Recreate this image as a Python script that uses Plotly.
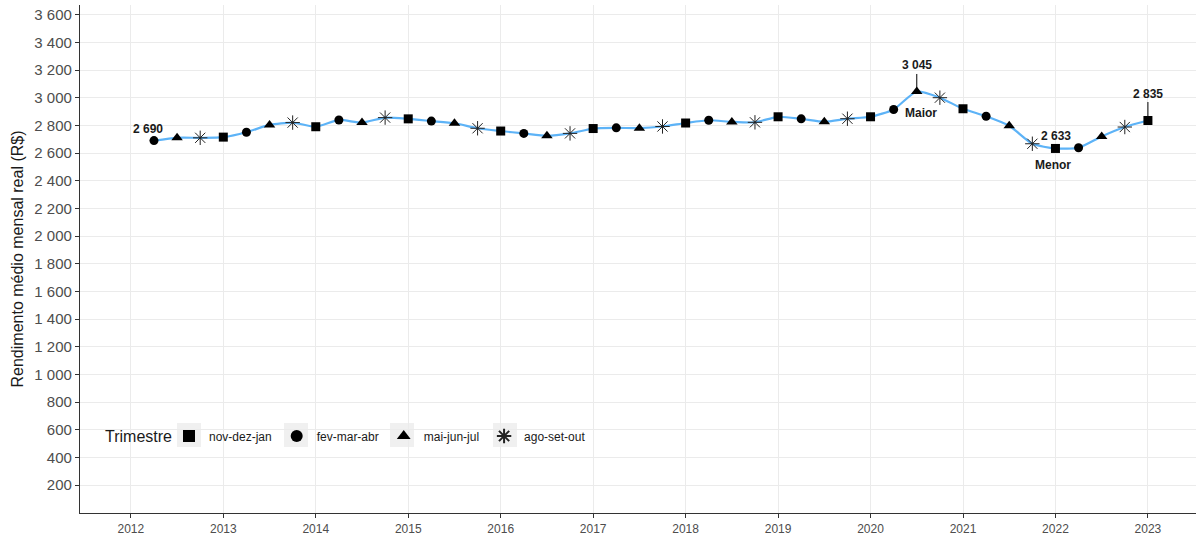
import plotly.graph_objects as go

# ---- data ----
trimestres = ["nov-dez-jan", "fev-mar-abr", "mai-jun-jul", "ago-set-out"]
# x position (decimal year) and value, in chronological order starting fev-mar-abr 2012
anos = [2012.25 + 0.25 * i for i in range(44)]
valores = [
    2690, 2710, 2710, 2715,   # 2012.25 .. 2013.0
    2750, 2803, 2820, 2790,   # .. 2014.0
    2839, 2820, 2856, 2847,   # .. 2015.0
    2831, 2815, 2779, 2759,   # .. 2016.0
    2742, 2725, 2742, 2777,   # .. 2017.0
    2782, 2780, 2792, 2817,   # .. 2018.0
    2837, 2825, 2822, 2862,   # .. 2019.0
    2847, 2826, 2848, 2862,   # .. 2020.0
    2915, 3045, 3000, 2920,   # .. 2021.0
    2866, 2797, 2667, 2633,   # .. 2022.0
    2638, 2720, 2788, 2835,   # .. 2023.0
]
# trimestre index of each point: fev-mar-abr first
tri_idx = [(i + 1) % 4 for i in range(44)]

anos_ticks = list(range(2012, 2024))
y_ticks = list(range(200, 3601, 200))

simbolos = {"nov-dez-jan": "square", "fev-mar-abr": "circle",
            "mai-jun-jul": "triangle-up", "ago-set-out": "asterisk-open"}

def fmt(v):
    return f"{v:,}".replace(",", " ")

W, H = 1198, 538
ML, MR, MT, MB = 80, 2, 5, 25
PW, PH = W - ML - MR, H - MT - MB

def px(xpix):
    return (xpix - ML) / PW

def py(ypix):
    return (H - MB - ypix) / PH

fig = go.Figure()

fig.add_trace(go.Scatter(
    x=anos, y=valores, mode="lines",
    line=dict(color="#5DB3F7", width=2.2, shape="spline", smoothing=0.6),
    showlegend=False, hoverinfo="skip"))

for k, t in enumerate(trimestres):
    xs = [a for a, ti in zip(anos, tri_idx) if ti == k]
    ys = [v for v, ti in zip(valores, tri_idx) if ti == k]
    if t == "ago-set-out":
        mk = dict(symbol=simbolos[t], size=12, color="#222", line=dict(color="#222", width=1))
    elif t == "mai-jun-jul":
        mk = dict(symbol=simbolos[t], size=10, color="black", line=dict(width=0))
    else:
        mk = dict(symbol=simbolos[t], size=9, color="black", line=dict(width=0))
    fig.add_trace(go.Scatter(x=xs, y=ys, mode="markers", name=t, marker=mk))

# annotations
i_first = 0
i_max = valores.index(max(valores))
i_min = valores.index(min(valores))
i_last = len(valores) - 1
afont = dict(family="Liberation Sans, Arial", size=12, color="#1a1a1a")

fig.add_annotation(x=anos[i_first], y=valores[i_first], text="<b>" + fmt(valores[i_first]) + "</b>",
                   showarrow=False, xshift=-6, yshift=12, font=afont)
fig.add_annotation(x=anos[i_max], y=valores[i_max], text="<b>" + fmt(valores[i_max]) + "</b>",
                   showarrow=True, arrowhead=0, arrowwidth=1, arrowcolor="black",
                   ax=0, ay=-24, yshift=2, font=afont)
fig.add_annotation(x=anos[i_max], y=valores[i_max], text="<b>Maior</b>",
                   showarrow=False, xshift=4, yshift=-22, font=afont)
fig.add_annotation(x=anos[i_min], y=valores[i_min], text="<b>" + fmt(valores[i_min]) + "</b>",
                   showarrow=False, xshift=1, yshift=12, font=afont)
fig.add_annotation(x=anos[i_min], y=valores[i_min], text="<b>Menor</b>",
                   showarrow=False, xshift=-2, yshift=-17, font=afont)
fig.add_annotation(x=anos[i_last], y=valores[i_last], text="<b>" + fmt(valores[i_last]) + "</b>",
                   showarrow=True, arrowhead=0, arrowwidth=1, arrowcolor="black",
                   ax=0, ay=-25, yshift=2, font=afont)

# legend title as annotation
fig.add_annotation(xref="paper", yref="paper", x=px(103), y=py(436), xanchor="left", yanchor="middle",
                   text="Trimestre", showarrow=False,
                   font=dict(family="Liberation Sans, Arial", size=16, color="#1a1a1a"))

# grey legend key backgrounds
for cx in [189, 296, 402, 505]:
    fig.add_shape(type="rect", xref="paper", yref="paper",
                  x0=px(cx - 12), x1=px(cx + 12), y0=py(447), y1=py(423),
                  fillcolor="#f0f0f0", line=dict(width=0), layer="below")

fig.update_layout(
    width=W, height=H,
    margin=dict(l=ML, r=MR, t=MT, b=MB, autoexpand=False),
    paper_bgcolor="white", plot_bgcolor="white",
    font=dict(family="Liberation Sans, Arial", color="#333"),
    xaxis=dict(range=[2011.45, 2023.52], tickvals=anos_ticks, ticktext=[str(a) for a in anos_ticks],
               showgrid=True, gridcolor="#ebebeb", gridwidth=1, zeroline=False,
               showline=True, linecolor="#333", linewidth=1.2,
               ticks="outside", ticklen=4, tickcolor="#333",
               tickfont=dict(size=12, color="#4d4d4d")),
    yaxis=dict(range=[-2, 3670], tickvals=y_ticks, ticktext=[fmt(v) for v in y_ticks],
               showgrid=True, gridcolor="#ebebeb", gridwidth=1, zeroline=False,
               showline=True, linecolor="#333", linewidth=1.2,
               ticks="outside", ticklen=4, tickcolor="#333",
               tickfont=dict(size=15, color="#4d4d4d"),
               title=dict(text="Rendimento médio mensal real (R$)", font=dict(size=16, color="#1a1a1a"),
                          standoff=6)),
    legend=dict(orientation="h", x=px(169), y=py(436), xanchor="left", yanchor="middle",
                bgcolor="rgba(0,0,0,0)",
                font=dict(size=12, color="#1a1a1a"), itemsizing="constant"),
)

fig.write_html("out.html", config={"displayModeBar": False},
               post_script="document.body.style.margin='0';document.body.style.padding='0';")
